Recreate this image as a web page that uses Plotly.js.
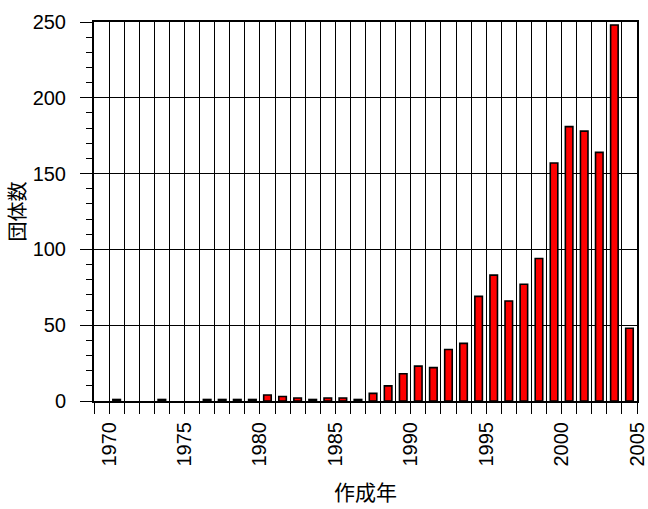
<!DOCTYPE html>
<html>
<head>
<meta charset="utf-8">
<script src="https://cdn.plot.ly/plotly-3.0.1.min.js"></script>
<style>html,body{margin:0;padding:0;background:#fff;}#chart{width:648px;height:509px;}</style>
</head>
<body>
<div id="chart"></div>
<script>
const years = [1970,1971,1972,1973,1974,1975,1976,1977,1978,1979,1980,1981,1982,1983,1984,1985,1986,1987,1988,1989,1990,1991,1992,1993,1994,1995,1996,1997,1998,1999,2000,2001,2002,2003,2004];
const counts = [1,0,0,1,0,0,1,1,1,1,4,3,2,1,2,2,1,5,10,18,23,22,34,38,69,83,66,77,94,157,181,178,164,248,48];
const xTitle = '作成年';
const yTitle = '団体数';

const tickFont = {family: 'Liberation Sans, Arial, sans-serif', size: 20, color: '#000'};
const xTitleFont = {family: 'Noto Sans CJK JP, sans-serif', size: 21, color: '#000'};
const yTitleFont = {family: 'Noto Sans CJK JP, sans-serif', size: 20, color: '#000'};

const trace = {
  type: 'bar',
  x: years,
  y: counts,
  width: 0.5,
  offset: 0.25,
  marker: {color: '#ff0000', line: {color: '#000', width: counts.map(v => v > 0 ? 1.6 : 0)}},
  hoverinfo: 'x+y'
};

const layout = {
  width: 648, height: 509,
  margin: {l: 94, r: 11, t: 22, b: 108},
  paper_bgcolor: '#fff', plot_bgcolor: '#fff',
  showlegend: false,
  bargap: 0,
  xaxis: {
    range: [1969, 2005],
    tick0: 1970, dtick: 5,
    ticks: 'outside', ticklen: 11, tickwidth: 1, tickcolor: '#000',
    tickangle: -90,
    tickfont: tickFont,
    showgrid: true, gridcolor: '#000', gridwidth: 1,
    minor: {dtick: 1, tick0: 1970, ticks: 'outside', ticklen: 11, tickwidth: 1, tickcolor: '#000', showgrid: true, gridcolor: '#000', gridwidth: 1},
    showline: true, linecolor: '#000', linewidth: 2, mirror: true,
    zeroline: false, automargin: false,
    title: {text: xTitle, font: xTitleFont, standoff: 20}
  },
  yaxis: {
    range: [0, 250],
    tick0: 0, dtick: 50,
    ticks: 'outside', ticklen: 12, tickwidth: 1, tickcolor: '#000',
    ticklabelstandoff: 10,
    tickfont: tickFont,
    showgrid: true, gridcolor: '#000', gridwidth: 1,
    minor: {dtick: 10, ticks: 'outside', ticklen: 6, tickwidth: 1, tickcolor: '#000', showgrid: false},
    showline: true, linecolor: '#000', linewidth: 2, mirror: true,
    zeroline: false, automargin: false,
    title: {text: yTitle, font: yTitleFont, standoff: 2}
  }
};

Plotly.newPlot('chart', [trace], layout, {displayModeBar: false, staticPlot: true});
</script>
</body>
</html>
